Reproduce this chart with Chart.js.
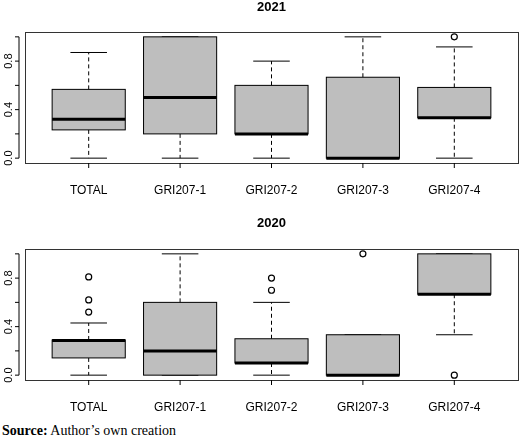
<!DOCTYPE html>
<html>
<head>
<meta charset="utf-8">
<script src="https://cdn.jsdelivr.net/npm/chart.js@4.4.0/dist/chart.umd.min.js"></script>
<style>
  body { margin: 0; background: #fff; width: 520px; height: 444px; position: relative; font-family: "Liberation Sans", Arial, sans-serif; }
  .wrap { position: absolute; left: 0; width: 520px; }
  #src { position: absolute; left: 2px; top: 423px; font-family: "Liberation Serif", "Times New Roman", serif; font-size: 14px; }
</style>
</head>
<body>
<div class="wrap" style="top:0;height:200px"><canvas id="c2021"></canvas></div>
<div class="wrap" style="top:205px;height:215px"><canvas id="c2020"></canvas></div>
<div id="src"><b>Source:</b> Author’s own creation</div>
<script>
const categories = ['TOTAL', 'GRI207-1', 'GRI207-2', 'GRI207-3', 'GRI207-4'];
const yTicks = [0, 0.4, 0.8];

// 2021
const min21 = [0, 0, 0, 0, 0];
const q1_21 = [0.233, 0.2, 0.2, 0, 0.333];
const med21 = [0.32, 0.5, 0.2, 0, 0.333];
const q3_21 = [0.567, 1.0, 0.6, 0.667, 0.583];
const max21 = [0.871, 1.0, 0.8, 1.0, 0.917];
const out21 = [[], [], [], [], [1.0]];

// 2020
const min20 = [0, 0, 0, 0, 0.333];
const q1_20 = [0.142, 0, 0.1, 0, 0.667];
const med20 = [0.286, 0.2, 0.1, 0, 0.667];
const q3_20 = [0.29, 0.6, 0.3, 0.333, 1.0];
const max20 = [0.43, 1.0, 0.6, 0.333, 1.0];
const out20 = [[0.81, 0.62, 0.52], [], [0.8, 0.7], [1.0], [0]];

const boxPlugin = {
  id: 'box',
  afterDatasetsDraw(chart, args, o) {
    const ctx = chart.ctx, y = chart.scales.y, x = chart.scales.x, a = chart.chartArea;
    const meta = chart.getDatasetMeta(0);
    ctx.save();
    ctx.strokeStyle = '#000';
    categories.forEach((c, i) => {
      const bar = meta.data[i];
      const cx = bar.x, hw = bar.width / 2;
      // whiskers
      ctx.lineWidth = 1;
      ctx.setLineDash([4, 3]);
      ctx.beginPath();
      ctx.moveTo(cx, y.getPixelForValue(o.q3[i])); ctx.lineTo(cx, y.getPixelForValue(o.max[i]));
      ctx.moveTo(cx, y.getPixelForValue(o.q1[i])); ctx.lineTo(cx, y.getPixelForValue(o.min[i]));
      ctx.stroke();
      ctx.setLineDash([]);
      ctx.beginPath();
      [o.max[i], o.min[i]].forEach(v => {
        const py = y.getPixelForValue(v);
        ctx.moveTo(cx - hw / 2, py); ctx.lineTo(cx + hw / 2, py);
      });
      ctx.stroke();
      // box outline
      const t = y.getPixelForValue(o.q3[i]), b = y.getPixelForValue(o.q1[i]);
      ctx.fillStyle = '#bebebe';
      ctx.fillRect(cx - hw, t, hw * 2, b - t);
      ctx.strokeRect(cx - hw, t, hw * 2, b - t);
      // median
      ctx.lineWidth = 3;
      ctx.beginPath();
      const pm = y.getPixelForValue(o.med[i]);
      ctx.moveTo(cx - hw, pm); ctx.lineTo(cx + hw, pm);
      ctx.stroke();
      // outliers
      ctx.lineWidth = 1.2;
      o.out[i].forEach(v => {
        ctx.beginPath();
        ctx.arc(cx, y.getPixelForValue(v), 3, 0, Math.PI * 2);
        ctx.stroke();
      });
    });
    // frame
    const fl = a.left - 18, fr = a.right + 18;
    ctx.lineWidth = 1;
    ctx.strokeStyle = '#333';
    ctx.strokeRect(fl + 0.5, a.top + 0.5, fr - fl, a.bottom - a.top);
    // y axis
    ctx.strokeStyle = '#000';
    const ax = fl - 6;
    ctx.beginPath();
    ctx.moveTo(ax, y.getPixelForValue(0)); ctx.lineTo(ax, y.getPixelForValue(1));
    for (let v = 0; v <= 1.0001; v += 0.2) {
      const py = y.getPixelForValue(v);
      ctx.moveTo(ax, py); ctx.lineTo(ax - 4, py);
    }
    ctx.stroke();
    ctx.fillStyle = '#000';
    ctx.font = '11px "Liberation Sans", Arial, sans-serif';
    ctx.textAlign = 'center';
    ctx.textBaseline = 'bottom';
    yTicks.forEach(v => {
      ctx.save();
      ctx.translate(ax - 5, y.getPixelForValue(v));
      ctx.rotate(-Math.PI / 2);
      ctx.fillText(v.toFixed(1), 0, 0);
      ctx.restore();
    });
    // x ticks
    ctx.beginPath();
    meta.data.forEach(bar => {
      ctx.moveTo(bar.x, a.bottom); ctx.lineTo(bar.x, a.bottom + 5);
    });
    ctx.stroke();
    // title
    ctx.font = 'bold 13px "Liberation Sans", Arial, sans-serif';
    ctx.textBaseline = 'middle';
    ctx.fillText(o.title, (fl + fr) / 2, o.titleY);
    ctx.restore();
  }
};

function makeChart(id, title, titleY, top, axisH, mn, q1, md, q3, mx, out) {
  return new Chart(document.getElementById(id), {
    type: 'bar',
    data: {
      labels: categories,
      datasets: [{
        data: q1.map((v, i) => [v, q3[i]]),
        backgroundColor: 'rgba(0,0,0,0)',
        barPercentage: 0.8,
        categoryPercentage: 1
      }]
    },
    options: {
      responsive: true,
      maintainAspectRatio: false,
      animation: false,
      layout: { padding: { left: 43, right: 20, top: top, bottom: 0 } },
      plugins: {
        legend: { display: false },
        tooltip: { enabled: false },
        box: { title: title, titleY: titleY, min: mn, q1: q1, med: md, q3: q3, max: mx, out: out }
      },
      scales: {
        x: {
          grid: { display: false },
          border: { display: false },
          ticks: { color: '#000', padding: 12, font: { family: '"Liberation Sans", Arial, sans-serif', size: 12 } },
          afterFit: s => { s.height = axisH; }
        },
        y: { display: false, min: -0.04, max: 1.04 }
      }
    },
    plugins: [boxPlugin]
  });
}

makeChart('c2021', '2021', 7, 32, 37, min21, q1_21, med21, q3_21, max21, out21);
makeChart('c2020', '2020', 18, 44, 40, min20, q1_20, med20, q3_20, max20, out20);
</script>
</body>
</html>
